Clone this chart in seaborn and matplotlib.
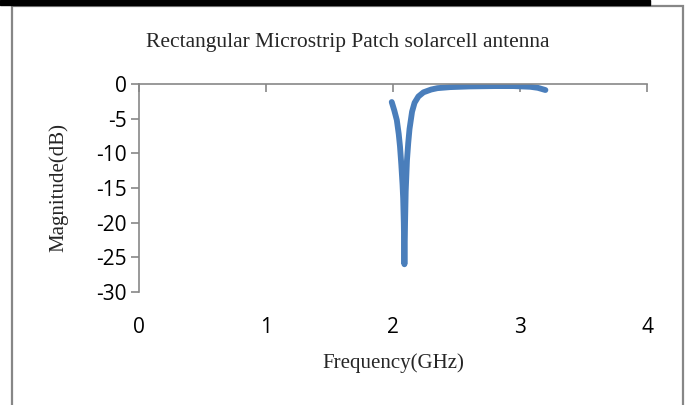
import numpy as np
import pandas as pd
import matplotlib
matplotlib.use('Agg')
import matplotlib.pyplot as plt
import seaborn as sns
from matplotlib.patches import Rectangle

# values
freq_ghz = [1.99, 2.01, 2.03, 2.045, 2.055, 2.065, 2.075, 2.08, 2.085, 2.09,
            2.095, 2.10, 2.11, 2.12, 2.13, 2.15, 2.17, 2.20, 2.24, 2.30,
            2.35, 2.45, 2.60, 2.80, 2.95, 3.08, 3.14, 3.20]
magnitude_db = [-2.6, -3.8, -5.2, -7.2, -9.0, -11.5, -14.5, -16.5, -20.0, -26.0,
                -20.0, -15.5, -11.0, -8.5, -6.5, -4.0, -2.7, -1.8, -1.2, -0.8,
                -0.6, -0.45, -0.35, -0.3, -0.3, -0.4, -0.55, -0.87]
x_ticks = [0, 1, 2, 3, 4]
y_ticks = [0, -5, -10, -15, -20, -25, -30]

df = pd.DataFrame({'freq': freq_ghz, 'mag': magnitude_db})

sns.set_style('white')
plt.rcParams['font.family'] = ['Open Sans', 'DejaVu Sans']

fig = plt.figure(figsize=(6.87, 4.05), dpi=100)
ax = fig.add_axes([139 / 687, 1 - 292 / 405, (647 - 139) / 687, (292 - 84) / 405])

sns.lineplot(data=df, x='freq', y='mag', ax=ax, color='#4a7ebb', linewidth=4.2,
             solid_capstyle='round', solid_joinstyle='round', sort=False)

ax.set_xlim(0, 4)
ax.set_ylim(-30, 0)
ax.set_xticks(x_ticks)
ax.set_yticks(y_ticks)
ax.set_yticklabels([str(v) if v == 0 else '-' + str(abs(v)) for v in y_ticks])

gray = '#878787'
for side in ['bottom', 'right']:
    ax.spines[side].set_visible(False)
for side in ['top', 'left']:
    ax.spines[side].set_visible(True)
    ax.spines[side].set_color(gray)
    ax.spines[side].set_linewidth(1.2)

ax.tick_params(axis='x', top=True, bottom=False, labeltop=False, labelbottom=True,
               direction='in', length=6, width=1.2, color=gray, pad=18,
               labelsize=15, labelcolor='black')
ax.tick_params(axis='y', left=True, direction='out', length=6, width=1.2, color=gray,
               pad=3, labelsize=15, labelcolor='black')

serif = ['Liberation Serif', 'DejaVu Serif']
ax.set_xlabel('Frequency(GHz)', family=serif, fontsize=15, labelpad=11)
ax.set_ylabel('Magnitude(dB)', family=serif, fontsize=15, labelpad=20)
fig.text(348 / 687, 1 - 42 / 405, 'Rectangular Microstrip Patch solarcell antenna',
         family=serif, fontsize=15.5, ha='center', va='center')

# page border and black strip at the top
fig.patches.append(Rectangle((12 / 687, -0.05), (683 - 12) / 687, 1.05 - 6 / 405,
                             transform=fig.transFigure, fill=False,
                             edgecolor=gray, linewidth=1.6))
fig.patches.append(Rectangle((0, 1 - 5 / 405), 650 / 687, 5 / 405,
                             transform=fig.transFigure, color='black'))

fig.savefig('out.png', dpi=100)
